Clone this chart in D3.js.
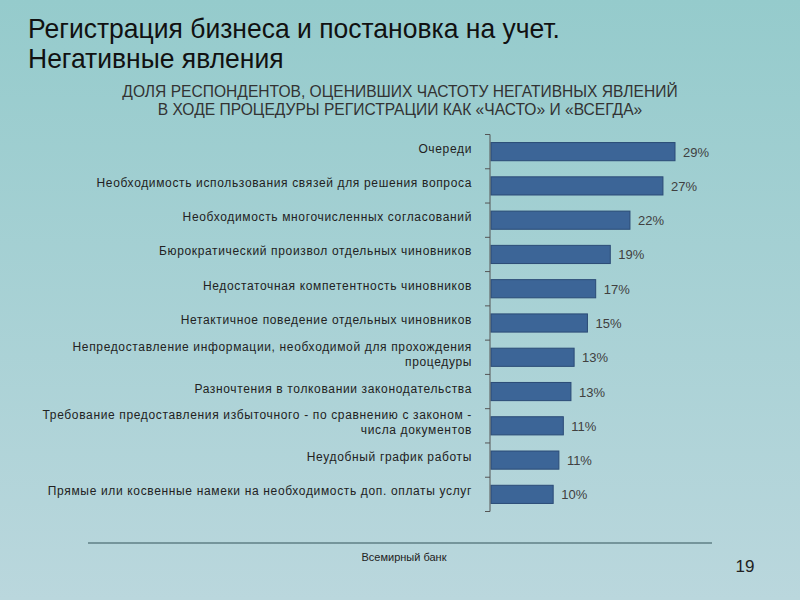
<!DOCTYPE html>
<html><head><meta charset="utf-8">
<script src="https://cdn.jsdelivr.net/npm/d3@7/dist/d3.min.js"></script>
<style>html,body{margin:0;padding:0;}svg{display:block;}</style>
</head><body>
<script>
const categories = [
  "Очереди",
  "Необходимость использования связей для решения вопроса",
  "Необходимость многочисленных согласований",
  "Бюрократический произвол отдельных чиновников",
  "Недостаточная компетентность чиновников",
  "Нетактичное поведение отдельных чиновников",
  "Непредоставление информации, необходимой для прохождения|процедуры",
  "Разночтения в толковании законодательства",
  "Требование предоставления избыточного - по сравнению с законом -|числа документов",
  "Неудобный график работы",
  "Прямые или косвенные намеки на необходимость доп. оплаты услуг"
];
const values = [29, 27.1, 21.9, 18.8, 16.5, 15.2, 13.1, 12.6, 11.4, 10.7, 9.8];
const valueLabels = ["29%", "27%", "22%", "19%", "17%", "15%", "13%", "13%", "11%", "11%", "10%"];
const titleLines = ["Регистрация бизнеса и постановка на учет.", "Негативные явления"];
const subtitleLines = ["ДОЛЯ РЕСПОНДЕНТОВ, ОЦЕНИВШИХ ЧАСТОТУ НЕГАТИВНЫХ ЯВЛЕНИЙ", "В ХОДЕ ПРОЦЕДУРЫ РЕГИСТРАЦИИ КАК «ЧАСТО» И «ВСЕГДА»"];
const footerText = "Всемирный банк";
const pageNumber = "19";

const W = 800, H = 600;
const svg = d3.select("body").append("svg").attr("width", W).attr("height", H);
const defs = svg.append("defs");
const grad = defs.append("linearGradient").attr("id", "bg").attr("x1", 0).attr("y1", 0).attr("x2", 0).attr("y2", 1);
grad.append("stop").attr("offset", "0%").attr("stop-color", "#95cbcc");
grad.append("stop").attr("offset", "100%").attr("stop-color", "#bad7dd");
svg.append("rect").attr("width", W).attr("height", H).attr("fill", "url(#bg)");

const narrow = "'Liberation Sans Narrow', 'Arial Narrow', 'Liberation Sans', Arial, sans-serif";
const sans = "'Liberation Sans', Arial, sans-serif";

svg.append("g").attr("transform", "translate(28,0) scale(0.96,1)")
  .selectAll("text.title").data(titleLines).join("text")
  .attr("class", "title")
  .attr("x", 0).attr("y", (d, i) => 38 + i * 30)
  .attr("font-family", sans).attr("font-size", 27.6).attr("fill", "#111")
  .text(d => d);

svg.selectAll("text.sub").data(subtitleLines).join("text")
  .attr("class", "sub")
  .attr("x", 400).attr("y", (d, i) => 97 + i * 18)
  .attr("text-anchor", "middle")
  .attr("font-family", narrow).attr("font-size", 15.6).attr("fill", "#333")
  .text(d => d);

const x0 = 491, yTop = 134.5, yBot = 511.5;
const x = d3.scaleLinear().domain([0, 29]).range([x0, 675]);
const y = d3.scaleBand().domain(categories).range([yTop, yBot]).paddingInner(0.47).paddingOuter(0.235);

const g = svg.append("g");
g.selectAll("rect.bar").data(values).join("rect")
  .attr("class", "bar")
  .attr("x", x(0)).attr("y", (d, i) => y(categories[i]))
  .attr("width", d => x(d) - x(0)).attr("height", y.bandwidth())
  .attr("fill", "#3c6597").attr("stroke", "#2b4b76").attr("stroke-width", 1);

g.selectAll("text.val").data(values).join("text")
  .attr("class", "val")
  .attr("x", d => x(d) + 8)
  .attr("y", (d, i) => y(categories[i]) + y.bandwidth() / 2 + 5)
  .attr("font-family", sans).attr("font-size", 13).attr("fill", "#404040")
  .text((d, i) => valueLabels[i]);

// axis
const axis = d3.axisLeft(y).tickSize(0).tickFormat("");
const ag = svg.append("g").attr("transform", `translate(${x0 - 1},0)`).call(axis);
ag.select(".domain").attr("stroke", "#555").attr("d", `M0,${yTop}V${yBot}`);
const bounds = d3.range(categories.length + 1).map(i => yTop + i * (yBot - yTop) / categories.length);
ag.selectAll("line.tk").data(bounds).join("line").attr("class", "tk")
  .attr("x1", -5).attr("x2", 0).attr("y1", d => d).attr("y2", d => d)
  .attr("stroke", "#555");

// category labels
const labG = svg.append("g");
categories.forEach((c, i) => {
  const lines = c.split("|");
  const cy = y(c) + y.bandwidth() / 2;
  const lh = 15;
  const t = labG.append("text")
    .attr("text-anchor", "end")
    .attr("font-family", sans).attr("font-size", 12).attr("letter-spacing", 0.65).attr("fill", "#222");
  lines.forEach((l, j) => {
    t.append("tspan").attr("x", 472)
      .attr("y", cy + 1 - (lines.length - 1) * lh / 2 + j * lh)
      .text(l);
  });
});

// footer
svg.append("line").attr("x1", 88).attr("x2", 712).attr("y1", 543).attr("y2", 543)
  .attr("stroke", "#5f7f86").attr("stroke-width", 1.5);
svg.append("text").attr("x", 404).attr("y", 561).attr("text-anchor", "middle")
  .attr("font-family", narrow).attr("font-size", 11).attr("fill", "#222").text(footerText);
svg.append("text").attr("x", 745).attr("y", 572).attr("text-anchor", "middle")
  .attr("font-family", narrow).attr("font-size", 17).attr("fill", "#222").text(pageNumber);
</script>
</body></html>
